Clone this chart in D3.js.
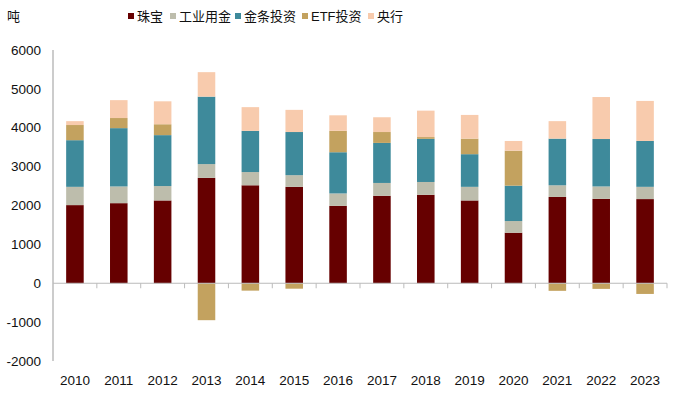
<!DOCTYPE html>
<html>
<head>
<meta charset="utf-8">
<script src="https://cdn.jsdelivr.net/npm/d3@7"></script>
<style>
  body { margin: 0; background: #fff; }
  text { font-family: "Liberation Sans", Arial, "Noto Sans CJK SC", sans-serif; }
</style>
</head>
<body>
<div id="chart"></div>
<script>
const years = ["2010","2011","2012","2013","2014","2015","2016","2017","2018","2019","2020","2021","2022","2023"];
const jewelry    = [2010, 2060, 2130, 2710, 2520, 2480, 1990, 2250, 2275, 2130, 1300, 2220, 2170, 2165];
const industrial = [470, 430, 370, 355, 340, 300, 320, 330, 330, 350, 300, 300, 320, 315];
const barCoin    = [1200, 1500, 1310, 1735, 1060, 1110, 1060, 1030, 1110, 840, 910, 1200, 1220, 1180];
const etf        = [390, 260, 280, -950, -190, -140, 550, 280, 45, 400, 900, -195, -145, -275];
const centralBank = [100, 460, 590, 630, 610, 570, 400, 380, 680, 610, 250, 450, 1080, 1030];
const yTicks = [-2000, -1000, 0, 1000, 2000, 3000, 4000, 5000, 6000];

const seriesNames = ["珠宝", "工业用金", "金条投资", "ETF投资", "央行"];
const seriesValues = [jewelry, industrial, barCoin, etf, centralBank];
const colors = ["#660000", "#bdbdac", "#3e8a9b", "#c3a25f", "#f8cbad"];

const dimensions = {
  width: 678,
  height: 393,
  margin: { left: 53, right: 11, top: 50, bottom: 32 }
};

const svg = d3.select("#chart")
  .append("svg")
  .attr("width", dimensions.width)
  .attr("height", dimensions.height);

const xScale = d3.scaleBand()
  .domain(years)
  .range([dimensions.margin.left, dimensions.width - dimensions.margin.right])
  .paddingInner(0.6)
  .paddingOuter(0.3);

const yScale = d3.scaleLinear()
  .domain([-2000, 6000])
  .range([dimensions.height - dimensions.margin.bottom, dimensions.margin.top]);

// stack positives up, negatives down
const rects = [];
years.forEach((yr, i) => {
  let pos = 0, neg = 0;
  seriesValues.forEach((vals, s) => {
    const v = vals[i];
    let y0, y1;
    if (v >= 0) { y0 = pos; y1 = pos + v; pos = y1; }
    else { y0 = neg + v; y1 = neg; neg = y0; }
    rects.push({ year: yr, s, y0, y1 });
  });
});

svg.append("g")
  .selectAll("rect")
  .data(rects)
  .join("rect")
  .attr("x", d => xScale(d.year))
  .attr("width", xScale.bandwidth())
  .attr("y", d => yScale(d.y1))
  .attr("height", d => yScale(d.y0) - yScale(d.y1))
  .attr("fill", d => colors[d.s]);

// y axis
svg.append("line")
  .attr("x1", dimensions.margin.left).attr("x2", dimensions.margin.left)
  .attr("y1", yScale(6000)).attr("y2", yScale(-2000))
  .attr("stroke", "#999").attr("stroke-width", 1);

svg.append("g")
  .selectAll("text")
  .data(yTicks)
  .join("text")
  .attr("x", 41)
  .attr("y", d => yScale(d))
  .attr("dy", "0.35em")
  .attr("text-anchor", "end")
  .attr("font-size", 13.5)
  .attr("fill", "#111")
  .text(d => d);

// x axis at zero with boundary ticks
const step = xScale.step();
const x0 = dimensions.margin.left;
const boundaries = d3.range(years.length + 1).map(i => x0 + i * step);
svg.append("line")
  .attr("x1", x0).attr("x2", boundaries[boundaries.length - 1])
  .attr("y1", yScale(0)).attr("y2", yScale(0))
  .attr("stroke", "#bbb");
svg.append("g")
  .selectAll("line")
  .data(boundaries.slice(1))
  .join("line")
  .attr("x1", d => d).attr("x2", d => d)
  .attr("y1", yScale(0)).attr("y2", yScale(0) + 5)
  .attr("stroke", "#bbb");

svg.append("g")
  .selectAll("text")
  .data(years)
  .join("text")
  .attr("x", d => xScale(d) + xScale.bandwidth() / 2)
  .attr("y", 385)
  .attr("text-anchor", "middle")
  .attr("font-size", 13.5)
  .attr("fill", "#111")
  .text(d => d);

// unit
svg.append("text")
  .attr("x", 7).attr("y", 21)
  .attr("font-size", 13)
  .attr("fill", "#111")
  .text("吨");

// legend
const legendX = [128, 170, 235, 302, 368];
const legend = svg.append("g")
  .selectAll("g")
  .data(seriesNames)
  .join("g")
  .attr("transform", (d, i) => `translate(${legendX[i]},16)`);
legend.append("rect")
  .attr("x", 0).attr("y", -3)
  .attr("width", 6).attr("height", 6)
  .attr("fill", (d, i) => colors[i]);
legend.append("text")
  .attr("x", 9).attr("y", 0)
  .attr("dy", "0.36em")
  .attr("font-size", 13)
  .attr("fill", "#111")
  .text(d => d);
</script>
</body>
</html>
